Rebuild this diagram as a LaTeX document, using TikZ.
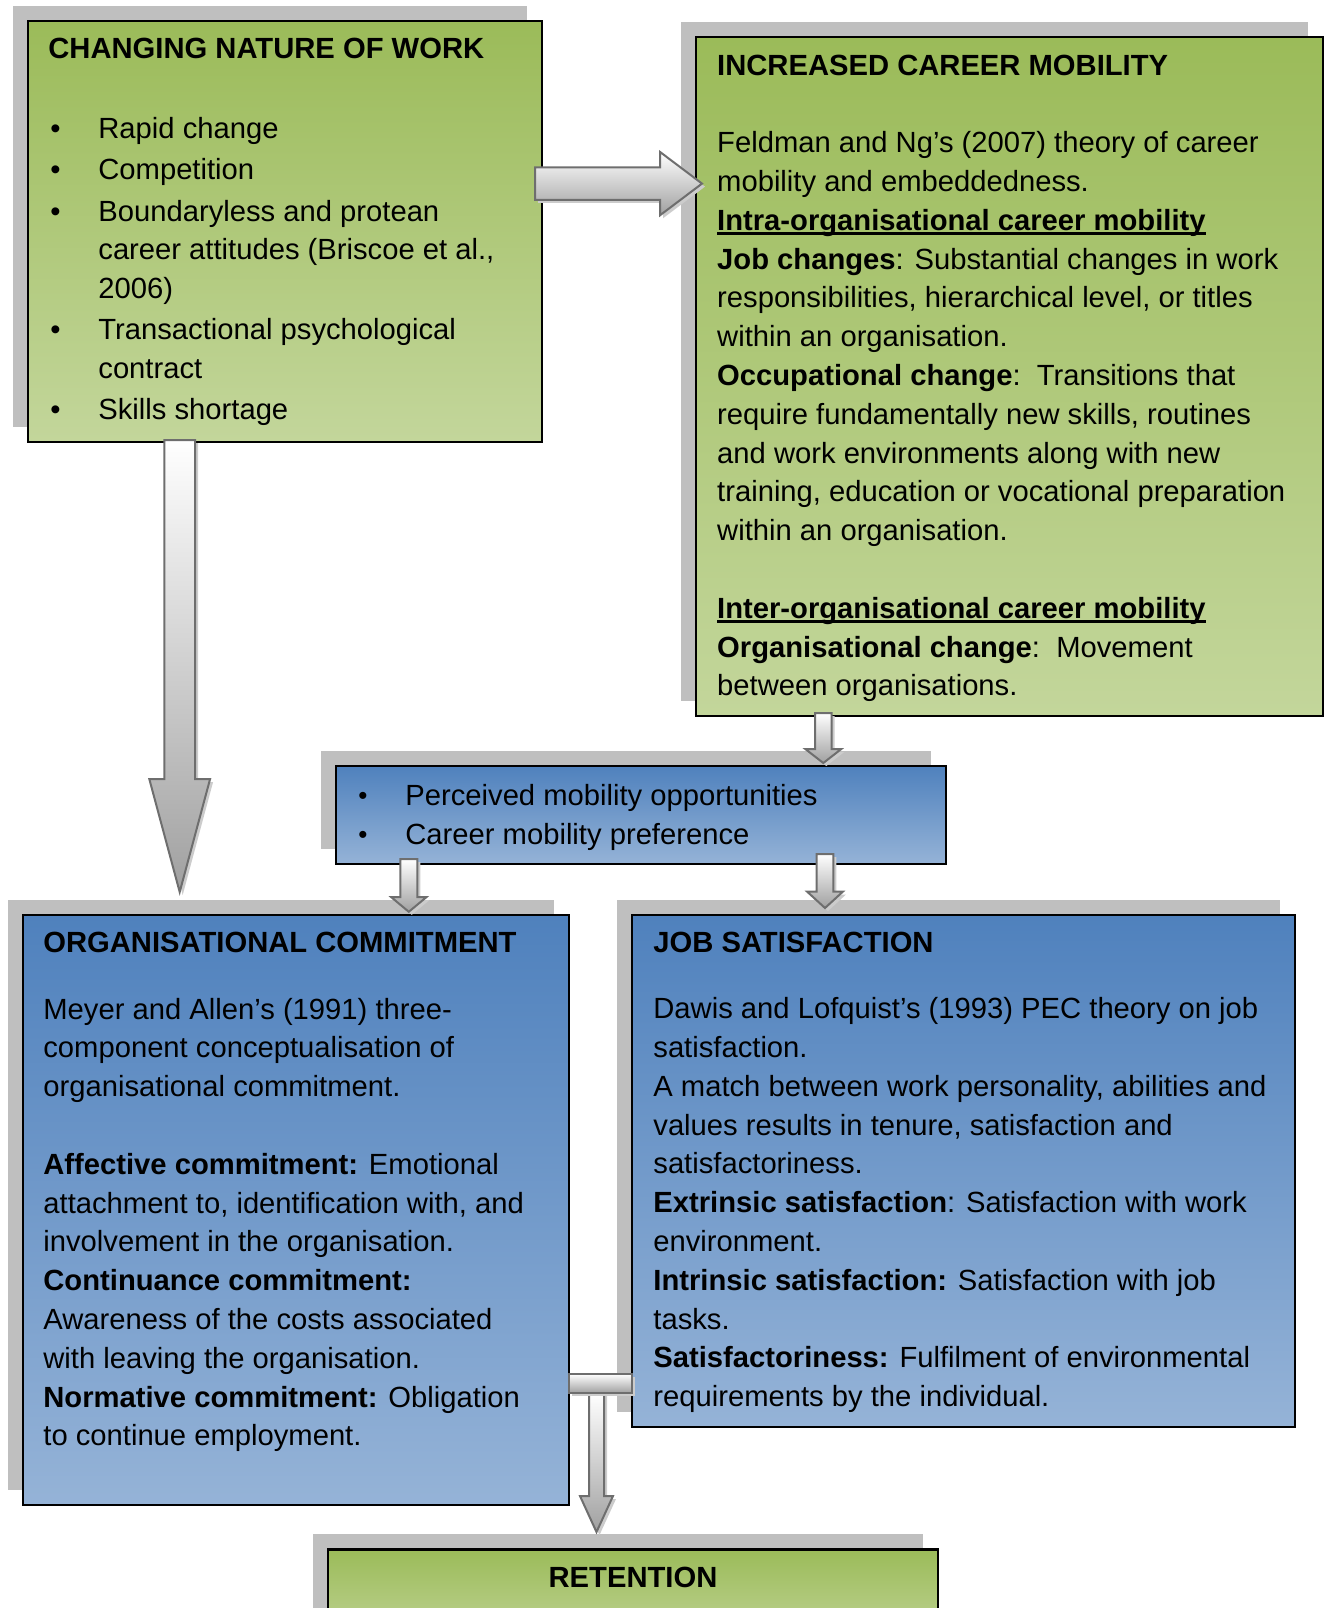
\documentclass[tikz,border=0pt]{standalone}
\usepackage{fontspec}
\setmainfont{Liberation Sans}
\usetikzlibrary{calc,shadows}

\definecolor{greentop}{RGB}{155,187,89}
\definecolor{greenbot}{RGB}{195,214,155}
\definecolor{bluetop}{RGB}{79,129,189}
\definecolor{bluebot}{RGB}{149,179,215}
\definecolor{shadowgray}{RGB}{191,191,191}
\definecolor{arrowgray}{RGB}{160,160,160}
\definecolor{arrowline}{RGB}{110,110,110}

% block arrows: start, tip, shaft half width, head half width, head length
\newcommand\blockdown[5]{%
  \draw[blockarrow] let \p1=(#1), \p2=(#2) in
    (\x1-#3,\y1) -- (\x1+#3,\y1) -- (\x1+#3,\y2+#5) -- (\x1+#4,\y2+#5)
    -- (\x1,\y2) -- (\x1-#4,\y2+#5) -- (\x1-#3,\y2+#5) -- cycle;}
\newcommand\blockright[5]{%
  \draw[blockarrow] let \p1=(#1), \p2=(#2) in
    (\x1,\y1+#3) -- (\x2-#5,\y1+#3) -- (\x2-#5,\y1+#4) -- (\x2,\y1)
    -- (\x2-#5,\y1-#4) -- (\x2-#5,\y1-#3) -- (\x1,\y1-#3) -- cycle;}
\newcommand\itembul{\hspace*{1pt}\makebox[24pt][l]{\textbullet}}
\newcommand\itemind{\hspace*{25pt}}
\newcommand\smallbul{\hspace*{1pt}\makebox[23.5pt][l]{\raisebox{0.6pt}{\fontsize{13}{13}\selectfont\textbullet}}}
\newcommand\ulbold[1]{\setbox0\hbox{\textbf{#1}}\rlap{\copy0}\rule[-2.2pt]{\wd0}{1.1pt}}

\begin{document}
\begin{tikzpicture}[x=0.5pt, y=-0.5pt,
  box/.style={anchor=north west, outer sep=0pt, draw=black, line width=1.1pt,
    general shadow={shadow xshift=-7.75pt, shadow yshift=7.75pt, fill=shadowgray}},
  greenbox/.style={box, top color=greentop, bottom color=greenbot},
  bluebox/.style={box, top color=bluetop, bottom color=bluebot},
  txt/.style={anchor=north west, inner sep=0pt, align=left,
    font=\fontsize{14.6}{19.4}\selectfont},
  blockarrow/.style={draw=arrowline, line width=1pt, top color=white,
    bottom color=arrowgray,
    general shadow={shadow xshift=1.5pt, shadow yshift=-1.5pt, fill=black!20}}]
  \useasboundingbox (0,0) rectangle (1328,1608);
  \clip (0,0) rectangle (1328,1608);

  % changing nature of work
  \node[greenbox, minimum width=257pt, minimum height=210.5pt] (work) at (28,21) {};
  \node[txt] (worktext) at ($(work.north west)+(10pt,-8.4pt)$) {%
    \textbf{CHANGING NATURE OF WORK}\\[20.6pt]
    \itembul Rapid change\\[1.2pt]
    \itembul Competition\\[1.2pt]
    \itembul Boundaryless and protean\\
    \itemind career attitudes (Briscoe et al.,\\
    \itemind 2006)\\[1.2pt]
    \itembul Transactional psychological\\
    \itemind contract\\[1.2pt]
    \itembul Skills shortage};

  % career mobility
  \node[greenbox, minimum width=313.5pt, minimum height=339.5pt] (mob) at (696,37) {};
  \node[txt] (mobtext) at ($(mob.north west)+(10.4pt,-8.6pt)$) {%
    \textbf{INCREASED CAREER MOBILITY}\\[19.4pt]
    Feldman and Ng’s (2007) theory of career\\
    mobility and embeddedness.\\
    \ulbold{Intra-organisational career mobility}\\
    \textbf{Job changes}: Substantial changes in work\\
    responsibilities, hierarchical level, or titles\\
    within an organisation.\\
    \textbf{Occupational change}:\ \ Transitions that\\
    require fundamentally new skills, routines\\
    and work environments along with new\\
    training, education or vocational preparation\\
    within an organisation.\\[19.4pt]
    \ulbold{Inter-organisational career mobility}\\
    \textbf{Organisational change}:\ \ Movement\\
    between organisations.};

  % perceived mobility
  \node[bluebox, minimum width=305pt, minimum height=49pt] (pmo) at (336,766) {};
  \node[txt] (pmotext) at ($(pmo.north west)+(10pt,-9.2pt)$) {%
    \smallbul Perceived mobility opportunities\\
    \smallbul Career mobility preference};

  % organisational commitment
  \node[bluebox, minimum width=273pt, minimum height=295pt] (org) at (23,915) {};
  \node[txt] (orgtext) at ($(org.north west)+(10pt,-8.5pt)$) {%
    \textbf{ORGANISATIONAL COMMITMENT}\\[13.7pt]
    Meyer and Allen’s (1991) three-\\
    component conceptualisation of\\
    organisational commitment.\\[19.4pt]
    \textbf{Affective commitment:} Emotional\\
    attachment to, identification with, and\\
    involvement in the organisation.\\
    \textbf{Continuance commitment:}\\
    Awareness of the costs associated\\
    with leaving the organisation.\\
    \textbf{Normative commitment:} Obligation\\
    to continue employment.};

  % job satisfaction
  \node[bluebox, minimum width=331.5pt, minimum height=256pt] (sat) at (632,915) {};
  \node[txt] (sattext) at ($(sat.north west)+(10.5pt,-8.5pt)$) {%
    \textbf{JOB SATISFACTION}\\[13.5pt]
    Dawis and Lofquist’s (1993) PEC theory on job\\
    satisfaction.\\
    A match between work personality, abilities and\\
    values results in tenure, satisfaction and\\
    satisfactoriness.\\
    \textbf{Extrinsic satisfaction}: Satisfaction with work\\
    environment.\\
    \textbf{Intrinsic satisfaction:} Satisfaction with job\\
    tasks.\\
    \textbf{Satisfactoriness:} Fulfilment of environmental\\
    requirements by the individual.};

  % retention
  \node[greenbox, minimum width=305pt, minimum height=50pt] (ret) at (328,1549.5) {};
  \node[inner sep=0pt, font=\fontsize{14.6}{19.4}\selectfont\bfseries] (rettext)
    at ($(ret.north)+(0pt,-13.9pt)$) {RETENTION};

  % arrows
  \blockright{$(work.north east)+(-3.5pt,-81.3pt)$}{$(mob.north west)+(3pt,0pt)$}{8.15pt}{15.85pt}{21pt}
  \blockdown{$(work.south west)+(75.85pt,1pt)$}{$(org.north west)+(0pt,11.5pt)$}{7.7pt}{15.2pt}{56.5pt}
  \blockdown{$(mob.south west)+(63.65pt,1.5pt)$}{$(pmo.north west)+(0pt,1.5pt)$}{4.15pt}{9pt}{7pt}
  \blockdown{$(pmo.south west)+(36.4pt,2.5pt)$}{$(org.north west)+(0pt,1.6pt)$}{4.25pt}{8.75pt}{7.3pt}
  \blockdown{$(pmo.south west)+(244.5pt,5pt)$}{$(sat.north west)+(0pt,3.5pt)$}{4.15pt}{8.9pt}{8.15pt}
  \blockdown{$(org.north east)+(13.75pt,-239pt)$}{$(ret.north)+(0pt,8.75pt)$}{3.75pt}{8.25pt}{18pt}
  \draw[blockarrow] ($(org.north east)+(0pt,-229.5pt)$) rectangle ($(sat.north west)+(0pt,-239pt)$);
\end{tikzpicture}
\end{document}
